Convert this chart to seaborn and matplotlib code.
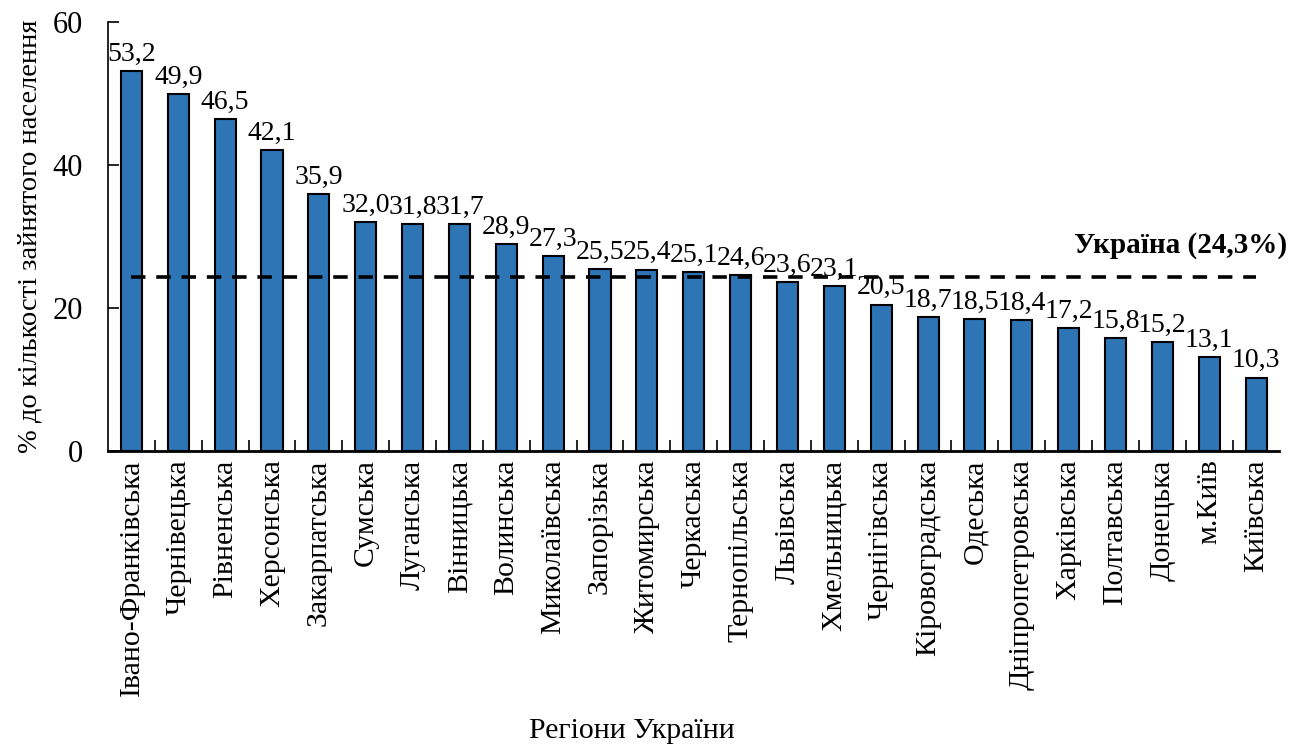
import seaborn as sns
import pandas as pd
import matplotlib.pyplot as plt
from matplotlib.ticker import FixedLocator

# data
regions = ["Івано-Франківська", "Чернівецька", "Рівненська", "Херсонська", "Закарпатська",
           "Сумська", "Луганська", "Вінницька", "Волинська", "Миколаївська", "Запорізька",
           "Житомирська", "Черкаська", "Тернопільська", "Львівська", "Хмельницька",
           "Чернігівська", "Кіровоградська", "Одеська", "Дніпропетровська", "Харківська",
           "Полтавська", "Донецька", "м.Київ", "Київська"]
values = [53.2, 49.9, 46.5, 42.1, 35.9, 32.0, 31.8, 31.7, 28.9, 27.3, 25.5, 25.4, 25.1,
          24.6, 23.6, 23.1, 20.5, 18.7, 18.5, 18.4, 17.2, 15.8, 15.2, 13.1, 10.3]
ukraine = 24.3

df = pd.DataFrame({"region": regions, "value": values})

sns.set_style("ticks")
plt.rcParams['font.family'] = ['Liberation Serif', 'DejaVu Serif']
plt.rcParams['text.color'] = 'black'
plt.rcParams['axes.labelcolor'] = 'black'
plt.rcParams['xtick.color'] = 'black'
plt.rcParams['ytick.color'] = 'black'
plt.rcParams['axes.edgecolor'] = 'black'

fig = plt.figure(figsize=(13.06, 7.47), dpi=100)
ax = fig.add_axes([0.0827, 0.396, 0.897, 0.5745])

sns.barplot(data=df, x="region", y="value", color="#2E75B6", width=0.45,
            edgecolor="black", linewidth=1.5, saturation=1, ax=ax)

n = len(regions)
ax.set_xlim(-0.5, n - 0.5)
ax.set_ylim(0, 60)
ax.set_yticks([0, 20, 40, 60])
ax.tick_params(axis="y", direction="in", length=8, width=1.2, labelsize=22, pad=18)
ax.tick_params(axis="x", which="major", length=0, labelsize=21.5, rotation=90, pad=6)
ax.xaxis.set_minor_locator(FixedLocator([i + 0.5 for i in range(n - 1)]))
ax.tick_params(axis="x", which="minor", direction="in", length=8, width=1.2)

for s in ["top", "right"]:
    ax.spines[s].set_visible(False)
ax.spines["left"].set_linewidth(1.2)
ax.spines["bottom"].set_linewidth(2)

labels = [f"{v:.1f}".replace(".", ",") for v in values]
ax.bar_label(ax.containers[0], labels=labels, fontsize=20, padding=3)

ax.hlines(ukraine, 0, n - 1, colors="black", linestyles=(0, (4, 3)), linewidth=2.6)
ax.text(n - 0.33, 28.8, "Україна (24,3%)", ha="right", va="center", fontsize=21,
        fontweight="bold", clip_on=False)

ax.set_xlabel("Регіони України", fontsize=21.5)
ax.xaxis.set_label_coords(0.447, -0.622)
ax.set_ylabel("% до кількості зайнятого населення", fontsize=20.5)
ax.yaxis.set_label_coords(-0.056, 0.5)

fig.savefig("out.png", dpi=100)
